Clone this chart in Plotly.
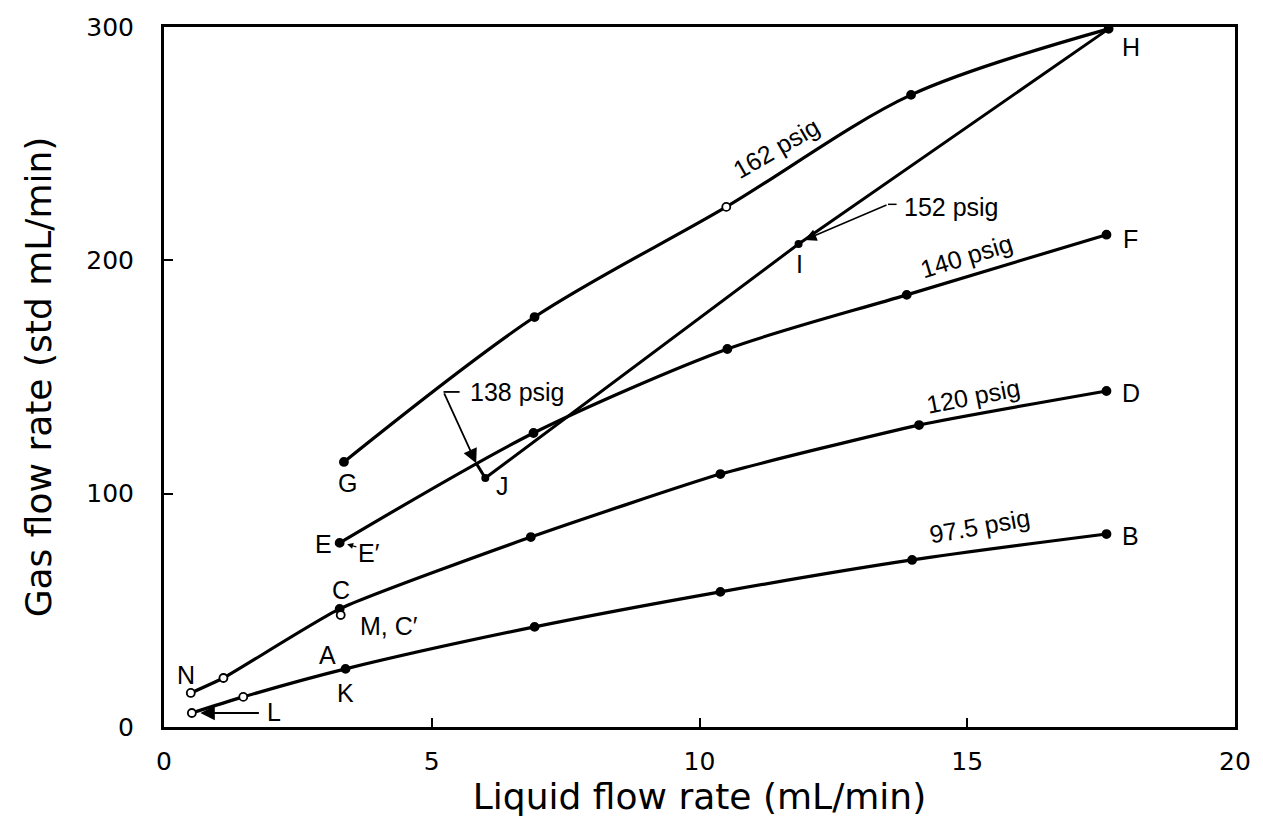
import plotly.graph_objects as go

# ---- data ----
x_975 = [0.52, 1.48, 3.39, 6.92, 10.39, 13.97, 17.6]
y_975 = [6.0, 12.9, 24.9, 42.9, 57.9, 71.6, 82.7]
open_975 = [True, True, False, False, False, False, False]

x_120 = [0.50, 1.11, 3.28, 6.85, 10.39, 14.10, 17.6]
y_120 = [14.6, 21.0, 50.6, 81.4, 108.4, 129.4, 144.0]
open_120 = [True, True, False, False, False, False, False]

x_140 = [3.28, 6.90, 10.52, 13.87, 17.6]
y_140 = [78.9, 126.0, 162.0, 185.2, 211.0]
open_140 = [False, False, False, False, False]

x_162 = [3.36, 6.92, 10.50, 13.95, 17.64]
y_162 = [113.6, 175.7, 222.9, 270.9, 299.2]
open_162 = [False, False, True, False, False]

x_152 = [5.83, 6.0, 11.85, 17.64]
y_152 = [113.0, 106.7, 207.0, 299.2]

x_mc = [3.30]
y_mc = [48.0]

x_ticks = [0, 5, 10, 15, 20]
y_ticks = [0, 100, 200, 300]

# point labels: text, x, y
pt_labels = [
    ("G", 3.43, 104.6), ("J", 6.33, 103.3), ("E", 2.97, 78.5), ("C", 3.30, 58.7),
    ("M, C\u2032", 4.20, 43.3), ("A", 3.06, 30.9), ("K", 3.38, 14.6), ("N", 0.41, 22.3),
    ("I", 11.86, 198.5), ("H", 18.05, 291.5), ("F", 18.05, 209.0), ("D", 18.05, 143.0),
    ("B", 18.05, 82.0), ("E\u2032", 3.82, 74.5), ("L", 2.05, 6.4),
]
# curve labels: text, x, y, angle
curve_labels = [
    ("162 psig", 11.43, 248.0, -30), ("140 psig", 14.98, 202.0, -17),
    ("120 psig", 15.11, 141.8, -11), ("97.5 psig", 15.22, 86.0, -10),
]

fig = go.Figure()

def add_curve(x, y, opens, smooth):
    fig.add_trace(go.Scatter(
        x=x, y=y, mode="lines",
        line=dict(color="black", width=3.2, shape="spline", smoothing=smooth),
        showlegend=False, hoverinfo="skip"))
    fig.add_trace(go.Scatter(
        x=x, y=y, mode="markers", showlegend=False, hoverinfo="skip",
        marker=dict(size=8, color=["white" if o else "black" for o in opens],
                    line=dict(color="black", width=1.8))))

add_curve(x_975, y_975, open_975, 0.8)
add_curve(x_120, y_120, open_120, 0.5)
add_curve(x_140, y_140, open_140, 0.8)
add_curve(x_162, y_162, open_162, 0.9)

fig.add_trace(go.Scatter(x=x_152, y=y_152, mode="lines", line=dict(color="black", width=3),
                         showlegend=False, hoverinfo="skip"))
fig.add_trace(go.Scatter(x=x_152[1:3], y=y_152[1:3], mode="markers", showlegend=False,
                         hoverinfo="skip", marker=dict(size=8, color="black")))
fig.add_trace(go.Scatter(x=x_mc, y=y_mc, mode="markers", showlegend=False, hoverinfo="skip",
                         marker=dict(size=8, color="white", line=dict(color="black", width=1.8))))

ann_font = dict(family="Liberation Sans, Arial, sans-serif", size=25, color="black")
for t, x, y in pt_labels:
    fig.add_annotation(x=x, y=y, text=t, showarrow=False, font=ann_font)
for t, x, y, a in curve_labels:
    fig.add_annotation(x=x, y=y, text=t, showarrow=False, font=ann_font, textangle=a)

# 138 psig label with bent leader
fig.add_annotation(x=6.60, y=143.6, text="138 psig", showarrow=False, font=ann_font)
fig.add_shape(type="line", x0=5.22, y0=143.6, x1=5.52, y1=143.6, line=dict(color="black", width=1.8))
fig.add_annotation(x=5.83, y=113.0, ax=5.22, ay=143.6, axref="x", ayref="y", text="",
                   showarrow=True, arrowhead=2, arrowsize=1.6, arrowwidth=1.8, arrowcolor="black",
                   standoff=0)
# 152 psig label with leader
fig.add_annotation(x=14.70, y=222.9, text="152 psig", showarrow=False, font=ann_font)
fig.add_shape(type="line", x0=13.52, y0=224.0, x1=13.68, y1=224.0, line=dict(color="black", width=1.5))
fig.add_annotation(x=11.96, y=208.7, ax=13.52, ay=224.0, axref="x", ayref="y", text="",
                   showarrow=True, arrowhead=2, arrowsize=1.6, arrowwidth=1.5, arrowcolor="black",
                   standoff=0)
# L arrow
fig.add_annotation(x=0.68, y=6.0, ax=1.80, ay=6.0, axref="x", ayref="y", text="",
                   showarrow=True, arrowhead=2, arrowsize=1.6, arrowwidth=1.8, arrowcolor="black",
                   standoff=0)
# E' arrow
fig.add_annotation(x=3.42, y=78.3, ax=3.62, ay=77.0, axref="x", ayref="y", text="",
                   showarrow=True, arrowhead=2, arrowsize=1.0, arrowwidth=1.2, arrowcolor="black",
                   standoff=0)

axis_font = dict(family="DejaVu Sans, sans-serif", size=25, color="black")
title_font = dict(family="DejaVu Sans, sans-serif", size=36, color="black")

fig.update_xaxes(range=[0, 20], tickvals=x_ticks, ticktext=[str(v) for v in x_ticks],
                 ticks="inside", ticklen=9, tickwidth=1.5, tickcolor="black",
                 showline=True, linewidth=3, linecolor="black", mirror=True,
                 showgrid=False, zeroline=False, tickfont=axis_font, ticklabelstandoff=10,
                 ticklabeloverflow="allow",
                 title=dict(text="Liquid flow rate (mL/min)", font=title_font, standoff=6))
fig.update_yaxes(range=[0, 300], tickvals=y_ticks, ticktext=[str(v) for v in y_ticks],
                 ticks="inside", ticklen=9, tickwidth=1.5, tickcolor="black",
                 showline=True, linewidth=3, linecolor="black", mirror=True,
                 showgrid=False, zeroline=False, tickfont=axis_font, ticklabelstandoff=22,
                 ticklabeloverflow="allow",
                 title=dict(text="Gas flow rate (std mL/min)", font=title_font, standoff=24))

fig.update_layout(width=1263, height=832, margin=dict(l=164, r=17, t=27, b=105),
                  plot_bgcolor="white", paper_bgcolor="white")

fig.write_html("out.html")
